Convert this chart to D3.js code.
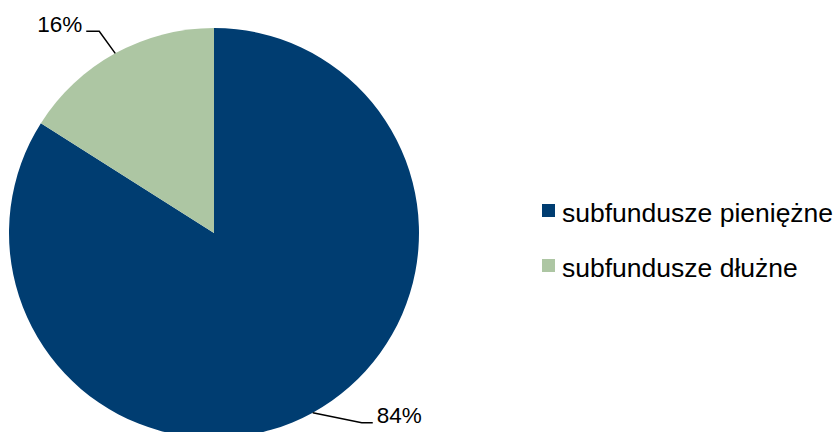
<!DOCTYPE html>
<html>
<head>
<meta charset="utf-8">
<script src="https://cdn.jsdelivr.net/npm/d3@7"></script>
<style>
  body { margin: 0; background: #fff; }
  text { font-family: "Liberation Sans", Arial, sans-serif; }
</style>
</head>
<body>
<svg width="835" height="432"></svg>
<script>
var categories = ["subfundusze pieniężne", "subfundusze dłużne"];
var shares = [84, 16];
var labels = ["84%", "16%"];

var colors = ["#003d71", "#adc6a3"];

var svg = d3.select("svg"),
  cx = 214,
  cy = 233,
  radius = 205;

var color = d3.scaleOrdinal().domain(categories).range(colors);

var data = categories.map(function(c, i) {
  return { name: c, value: shares[i], label: labels[i] };
});

var pie = d3.pie()
  .sort(null)
  .value(function(d) { return d.value; });

var arc = d3.arc().innerRadius(0).outerRadius(radius);

var g = svg.append("g")
  .attr("transform", "translate(" + cx + "," + cy + ")");

var arcs = pie(data);

g.selectAll("path")
  .data(arcs)
  .enter()
  .append("path")
  .attr("d", arc)
  .attr("fill", function(d) { return color(d.data.name); });

// leader lines: elbow offset and horizontal run per slice
var leader = {
  "subfundusze pieniężne": { dx: 49, dy: 10, run: 11 },
  "subfundusze dłużne": { dx: -16, dy: -22, run: -13 }
};

arcs.forEach(function(d) {
  var a = (d.startAngle + d.endAngle) / 2;
  var x0 = Math.sin(a) * radius,
    y0 = -Math.cos(a) * radius;
  var o = leader[d.data.name];
  var x1 = x0 + o.dx, y1 = y0 + o.dy, x2 = x1 + o.run;
  g.append("polyline")
    .attr("points", [[x0, y0], [x1, y1], [x2, y1]].join(" "))
    .attr("fill", "none")
    .attr("stroke", "#000")
    .attr("stroke-width", 1.5);
  g.append("text")
    .attr("x", x2 + (o.run > 0 ? 4 : -4))
    .attr("y", y1)
    .attr("dy", "0.02em")
    .attr("text-anchor", o.run > 0 ? "start" : "end")
    .attr("font-size", 22.5)
    .attr("fill", "#000")
    .text(d.data.label);
});

var legend = svg.append("g")
  .attr("transform", "translate(542,204)");

var rows = legend.selectAll("g")
  .data(categories)
  .enter()
  .append("g")
  .attr("transform", function(d, i) { return "translate(0," + i * 55 + ")"; });

rows.append("rect")
  .attr("width", 13)
  .attr("height", 13)
  .attr("fill", function(d) { return color(d); });

rows.append("text")
  .attr("x", 20)
  .attr("y", 18)
  .attr("font-size", 26.5)
  .attr("fill", "#000")
  .text(function(d) { return d; });
</script>
</body>
</html>
